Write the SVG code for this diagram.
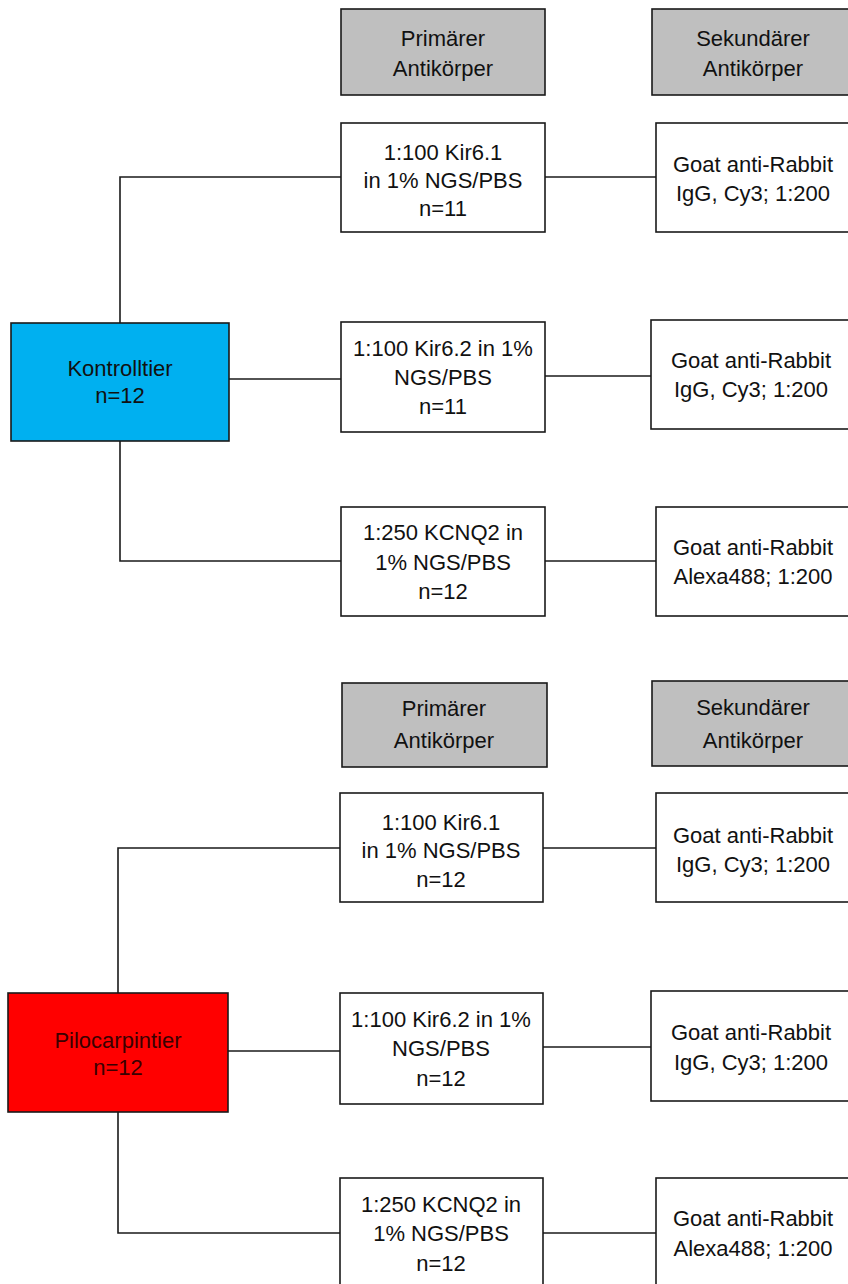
<svg xmlns="http://www.w3.org/2000/svg" width="848" height="1284" viewBox="0 0 848 1284">
<style>
  .box { fill: #ffffff; stroke: #1a1a1a; stroke-width: 1.6; }
  .hdr { fill: #bfbfbf; stroke: #1a1a1a; stroke-width: 1.6; }
  .ctrl { fill: #00b0f0; stroke: #1a1a1a; stroke-width: 1.6; }
  .pilo { fill: #ff0000; stroke: #1a1a1a; stroke-width: 1.6; }
  .conn { fill: none; stroke: #1a1a1a; stroke-width: 1.6; }
  text { font-family: "Liberation Sans", Arial, sans-serif; font-size: 22px; fill: #111111; text-anchor: middle; }
</style>
<rect width="848" height="1284" fill="#ffffff"/>

<g id="connectors">
  <path class="conn" d="M120,323 V177 H341"/>
  <path class="conn" d="M545,177 H656"/>
  <path class="conn" d="M229,379 H341"/>
  <path class="conn" d="M545,376 H651"/>
  <path class="conn" d="M120,441 V561 H341"/>
  <path class="conn" d="M545,561 H656"/>
  <path class="conn" d="M118,993 V848 H340"/>
  <path class="conn" d="M543,848 H656"/>
  <path class="conn" d="M228,1051 H340"/>
  <path class="conn" d="M543,1047 H651"/>
  <path class="conn" d="M118,1112 V1233 H340"/>
  <path class="conn" d="M543,1233 H656"/>
</g>

<g id="hdr-prim-1">
  <rect class="hdr" x="341" y="9" width="204" height="86"/>
  <text x="443" y="46">Primärer</text>
  <text x="443" y="76">Antikörper</text>
</g>
<g id="hdr-sek-1">
  <rect class="hdr" x="652" y="9" width="204" height="86"/>
  <text x="753" y="46">Sekundärer</text>
  <text x="753" y="76">Antikörper</text>
</g>
<g id="kir61-1">
  <rect class="box" x="341" y="123" width="204" height="109"/>
  <text x="443" y="160">1:100 Kir6.1</text>
  <text x="443" y="188">in 1% NGS/PBS</text>
  <text x="443" y="216">n=11</text>
</g>
<g id="goat-1a">
  <rect class="box" x="656" y="123" width="200" height="109"/>
  <text x="753" y="172">Goat anti-Rabbit</text>
  <text x="753" y="201">IgG, Cy3; 1:200</text>
</g>
<g id="kontrolltier">
  <rect class="ctrl" x="11" y="323" width="218" height="118"/>
  <text x="120" y="376">Kontrolltier</text>
  <text x="120" y="403">n=12</text>
</g>
<g id="kir62-1">
  <rect class="box" x="341" y="322" width="204" height="110"/>
  <text x="443" y="356">1:100 Kir6.2 in 1%</text>
  <text x="443" y="385">NGS/PBS</text>
  <text x="443" y="414">n=11</text>
</g>
<g id="goat-1b">
  <rect class="box" x="651" y="320" width="205" height="109"/>
  <text x="751" y="368">Goat anti-Rabbit</text>
  <text x="751" y="397">IgG, Cy3; 1:200</text>
</g>
<g id="kcnq2-1">
  <rect class="box" x="341" y="507" width="204" height="109"/>
  <text x="443" y="540">1:250 KCNQ2 in</text>
  <text x="443" y="570">1% NGS/PBS</text>
  <text x="443" y="599">n=12</text>
</g>
<g id="goat-1c">
  <rect class="box" x="656" y="507" width="200" height="109"/>
  <text x="753" y="555">Goat anti-Rabbit</text>
  <text x="753" y="584">Alexa488; 1:200</text>
</g>

<g id="hdr-prim-2">
  <rect class="hdr" x="342" y="683" width="205" height="84"/>
  <text x="444" y="716">Primärer</text>
  <text x="444" y="748">Antikörper</text>
</g>
<g id="hdr-sek-2">
  <rect class="hdr" x="652" y="681" width="204" height="85"/>
  <text x="753" y="715">Sekundärer</text>
  <text x="753" y="748">Antikörper</text>
</g>
<g id="kir61-2">
  <rect class="box" x="340" y="793" width="203" height="109"/>
  <text x="441" y="830">1:100 Kir6.1</text>
  <text x="441" y="858">in 1% NGS/PBS</text>
  <text x="441" y="887">n=12</text>
</g>
<g id="goat-2a">
  <rect class="box" x="656" y="793" width="200" height="109"/>
  <text x="753" y="843">Goat anti-Rabbit</text>
  <text x="753" y="872">IgG, Cy3; 1:200</text>
</g>
<g id="pilocarpintier">
  <rect class="pilo" x="8" y="993" width="220" height="119"/>
  <text x="118" y="1048" style="fill:#3a0000">Pilocarpintier</text>
  <text x="118" y="1075" style="fill:#3a0000">n=12</text>
</g>
<g id="kir62-2">
  <rect class="box" x="340" y="993" width="203" height="111"/>
  <text x="441" y="1027">1:100 Kir6.2 in 1%</text>
  <text x="441" y="1056">NGS/PBS</text>
  <text x="441" y="1086">n=12</text>
</g>
<g id="goat-2b">
  <rect class="box" x="651" y="991" width="205" height="110"/>
  <text x="751" y="1040">Goat anti-Rabbit</text>
  <text x="751" y="1070">IgG, Cy3; 1:200</text>
</g>
<g id="kcnq2-2">
  <rect class="box" x="340" y="1178" width="203" height="112"/>
  <text x="441" y="1212">1:250 KCNQ2 in</text>
  <text x="441" y="1241">1% NGS/PBS</text>
  <text x="441" y="1271">n=12</text>
</g>
<g id="goat-2c">
  <rect class="box" x="656" y="1178" width="200" height="112"/>
  <text x="753" y="1226">Goat anti-Rabbit</text>
  <text x="753" y="1256">Alexa488; 1:200</text>
</g>
</svg>
